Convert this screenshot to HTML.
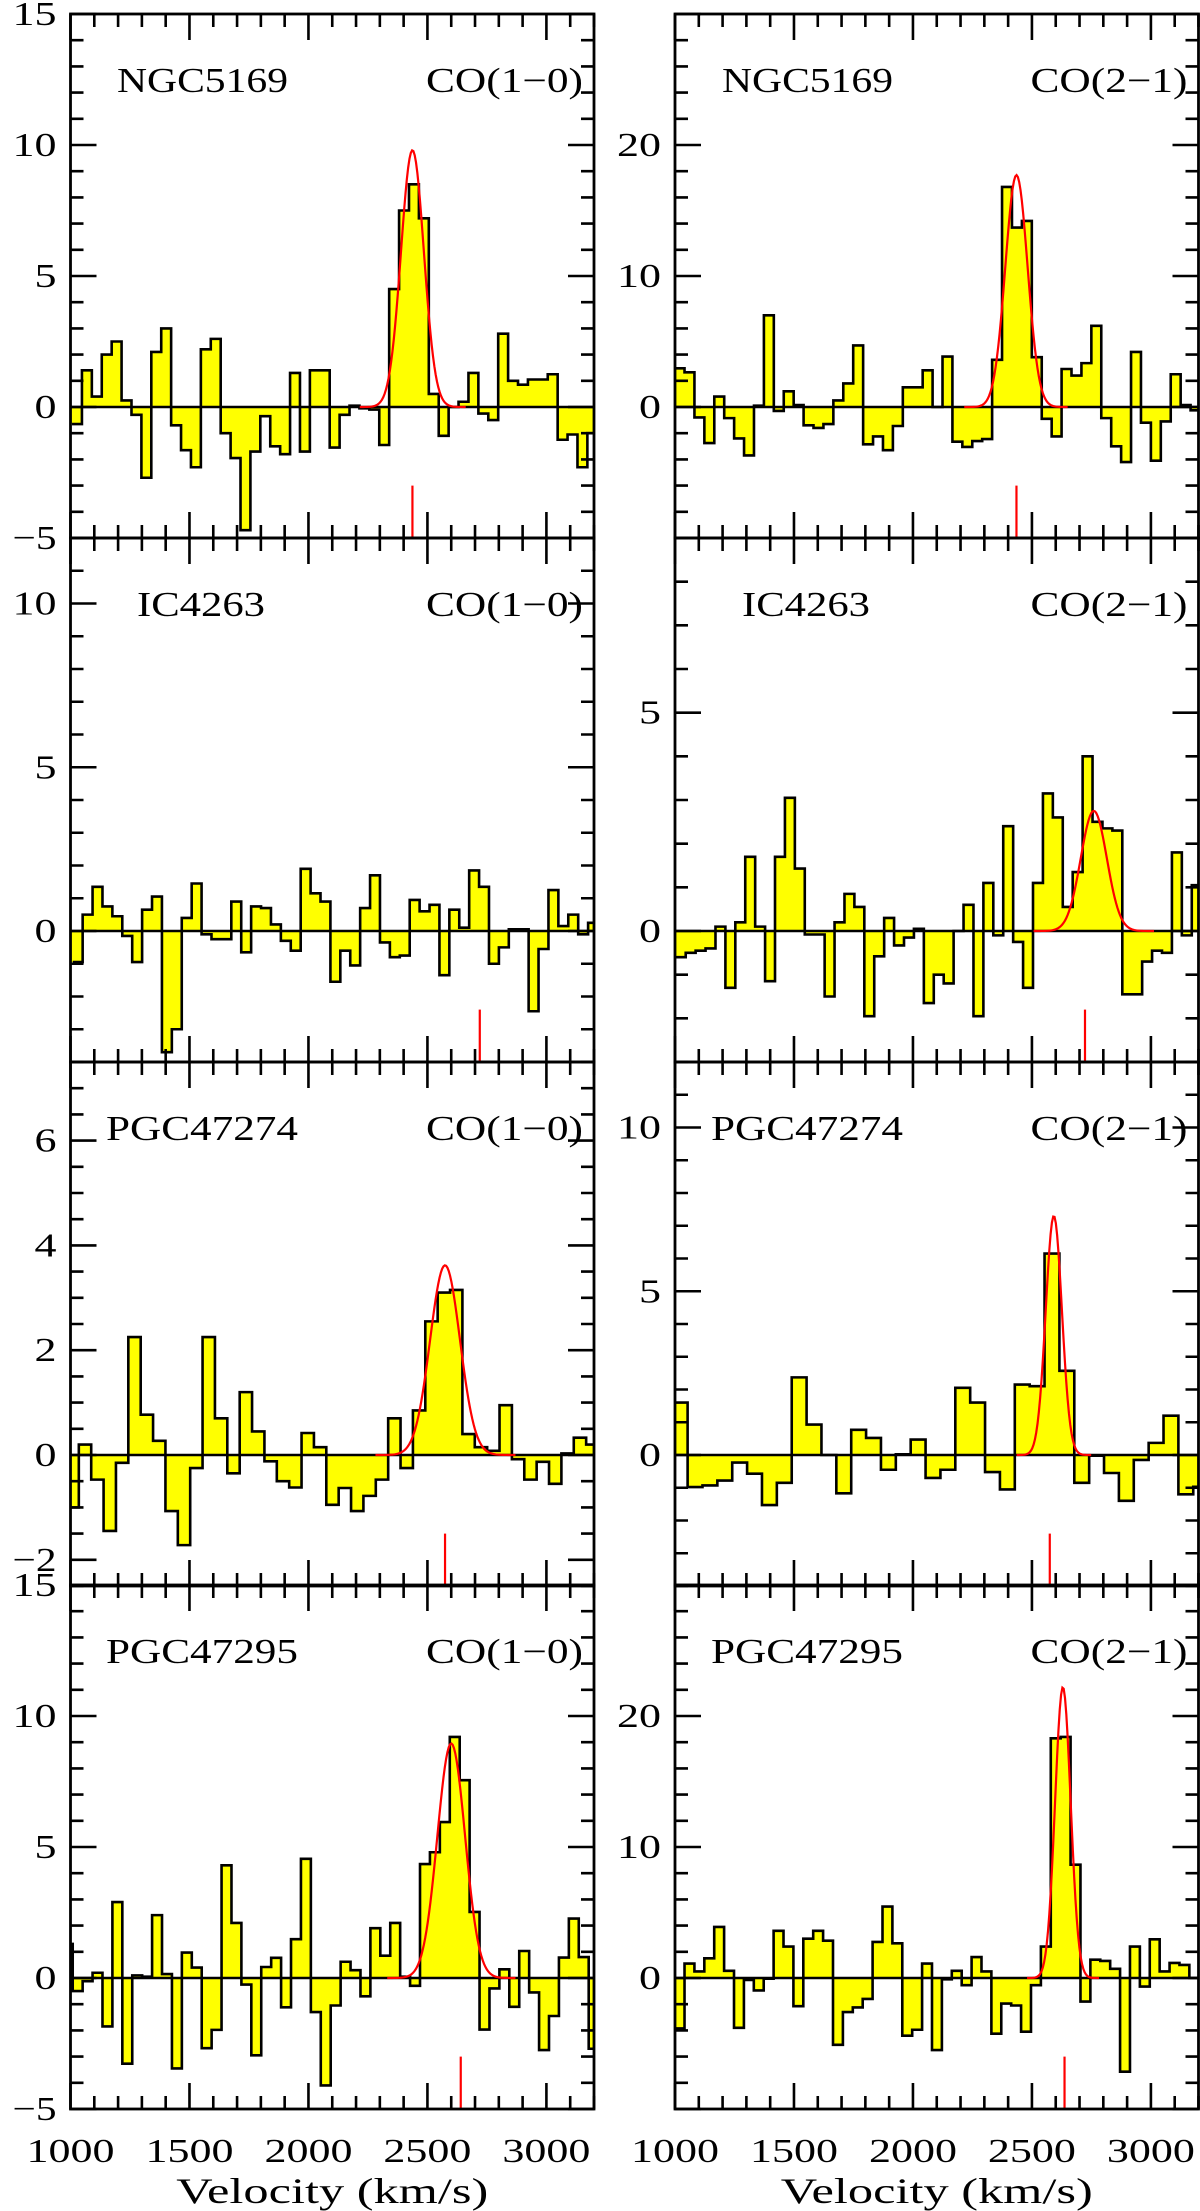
<!DOCTYPE html>
<html><head><meta charset="utf-8">
<style>
html,body{margin:0;padding:0;background:#fff;}
svg{display:block;}
text{font-family:"Liberation Serif",serif;fill:#000;}
</style></head>
<body>
<svg id="fig" width="1200" height="2211" viewBox="0 0 1200 2211" xmlns="http://www.w3.org/2000/svg"></svg>
<script>
// ---- data ----
const xTickLabels = [1000, 1500, 2000, 2500, 3000];
const galaxyNames = ["NGC5169", "IC4263", "PGC47274", "PGC47295"];
const lineNames = ["CO(1\u22120)", "CO(2\u22121)"];

const binStart = [1006.4, 998.3, 1009.4, 1003.3, 983.0, 990.5, 967.6, 998.4];
const binWidth = [41.65, 41.7, 41.65, 41.7, 52.0, 62.5, 41.7, 41.6];

const vals_ngc5169_co10 = [-0.65,1.4,0.4,2.0,2.5,0.25,-0.3,-2.7,2.1,3.0,-0.7,-1.65,-2.3,2.2,2.6,-1.0,-1.95,-4.7,-1.7,-0.35,-1.5,-1.8,1.3,-1.7,1.4,1.4,-1.55,-0.3,0.05,-0.05,-0.1,-1.45,4.5,7.5,8.5,7.2,0.5,-1.1,0.0,0.2,1.3,-0.25,-0.5,2.8,1.0,0.85,1.05,1.05,1.25,-1.25,-1.05,-2.3,-1.0];
const vals_ngc5169_co21 = [2.95,2.65,-0.8,-2.75,0.8,-0.85,-2.4,-3.7,0.1,7.0,-0.3,1.2,0.15,-1.4,-1.6,-1.3,0.5,1.8,4.7,-2.85,-2.25,-3.3,-1.45,1.5,1.5,2.8,0.0,3.85,-2.65,-3.05,-2.6,-2.45,3.6,16.8,13.7,14.2,3.8,-0.9,-2.25,2.9,2.4,3.35,6.2,-0.85,-3.0,-4.2,4.2,-1.2,-4.1,-1.1,2.5,0.15,-0.25];
const vals_ic4263_co10 = [-0.95,0.5,1.35,0.75,0.45,-0.15,-0.95,0.65,1.05,-3.7,-3.0,0.4,1.45,-0.1,-0.25,-0.25,0.9,-0.65,0.75,0.7,0.2,-0.3,-0.6,1.9,1.15,0.9,-1.55,-0.6,-1.05,0.7,1.7,-0.35,-0.8,-0.75,0.95,0.6,0.8,-1.35,0.65,0.1,1.85,1.35,-1.0,-0.5,0.05,0.05,-2.45,-0.55,1.25,0.15,0.5,-0.1,0.25];
const vals_ic4263_co21 = [-0.6,-0.5,-0.45,-0.4,0.1,-1.3,0.2,1.7,0.1,-1.15,1.7,3.05,1.43,-0.08,-0.08,-1.5,0.2,0.85,0.55,-1.95,-0.58,0.3,-0.33,-0.15,0.05,-1.65,-1.0,-1.2,0.0,0.6,-1.95,1.1,-0.1,2.4,-0.25,-1.3,1.1,3.15,2.6,0.55,1.35,4.0,2.5,2.35,2.3,-1.45,-1.45,-0.7,-0.45,-0.5,1.8,-0.1,1.05];
const vals_pgc47274_co10 = [-1.0,0.2,-0.47,-1.45,-0.15,2.25,0.77,0.27,-1.07,-1.72,-0.25,2.25,0.7,-0.35,1.2,0.45,-0.12,-0.5,-0.62,0.42,0.15,-0.95,-0.63,-1.07,-0.78,-0.47,0.7,-0.25,0.85,2.55,3.1,3.15,0.4,0.15,0.08,0.95,-0.08,-0.47,-0.13,-0.55,0.03,0.33,0.2];
const vals_pgc47274_co21 = [1.6,-0.98,-0.93,-0.78,-0.23,-0.57,-1.53,-0.85,2.37,0.93,0.0,-1.17,0.77,0.52,-0.45,0.02,0.47,-0.7,-0.45,2.05,1.6,-0.52,-1.05,2.15,2.1,6.15,2.57,-0.85,-0.02,-0.55,-1.4,-0.15,0.37,1.2,-1.2,-0.97];
const vals_pgc47295_co10 = [1.3,-0.5,-0.12,0.2,-1.85,2.9,-3.27,0.1,0.05,2.4,0.15,-3.45,0.97,0.4,-2.68,-1.98,4.3,2.1,-0.25,-2.95,0.42,0.77,-1.12,1.48,4.55,-1.3,-4.1,-1.05,0.62,0.3,-0.7,1.9,0.85,2.1,0.05,-0.3,4.35,4.8,5.95,9.2,7.55,2.52,-1.97,-0.4,0.33,-1.1,1.03,-0.55,-2.75,-1.45,0.78,2.27,0.8,-2.7];
const vals_pgc47295_co21 = [-3.85,1.1,0.5,1.5,3.9,0.55,-3.8,-0.15,-0.95,-0.05,3.6,2.4,-2.15,3.0,3.6,2.85,-5.1,-2.6,-2.25,-1.6,2.75,5.45,2.65,-4.4,-3.95,1.1,-5.5,-0.1,0.55,-0.55,1.6,0.5,-4.25,-1.95,-2.1,-4.1,-0.55,2.4,18.3,18.4,8.65,-1.8,1.4,1.3,0.7,-7.15,2.4,-0.65,2.95,0.5,1.15,1.0,0.0];

// gaussian fit: amplitude, centre (km/s), FWHM (km/s); null = no fit
const fitAmp = [9.8, 17.7, null, 2.75, 3.62, 7.3, 8.95, 22.2];
const fitCen = [2437, 2435, null, 2760, 2574, 2592, 2600, 2630];
const fitFwhm = [113, 110, null, 129, 148, 80, 137, 77];
// red velocity marker: position and top value of the tick
const markVel = [2437, 2435, 2720, 2723, 2574, 2575, 2640, 2637];
const markTop = [-3.0, -6.0, -2.4, -1.8, -1.5, -2.4, -3.0, -6.0];

// y-axis ranges and ticks
const yMin = [-5, -10, -4, -3, -2.5, -4, -5, -10];
const yMax = [15, 30, 12, 9, 7.5, 12, 15, 30];
const yMajor = [5, 10, 5, 5, 2, 5, 5, 10];
const yMinor = [1, 2, 1, 1, 0.5, 1, 1, 2];

const allVals = [vals_ngc5169_co10, vals_ngc5169_co21, vals_ic4263_co10, vals_ic4263_co21, vals_pgc47274_co10, vals_pgc47274_co21, vals_pgc47295_co10, vals_pgc47295_co21];

// ---- layout ----
const NS = "http://www.w3.org/2000/svg";
const svg = document.getElementById('fig');
const colL = [70.5, 675];
const colW = 523.5;
const rowT = [14, 538, 1062, 1585];
const rowH = 524;
const XMIN = 1000, XMAX = 3200;

function mk(tag, attrs, parent) {
  const e = document.createElementNS(NS, tag);
  for (const k in attrs) e.setAttribute(k, attrs[k]);
  (parent || svg).appendChild(e);
  return e;
}

const defs = mk('defs', {});

for (let p = 0; p < 8; p++) {
  const row = Math.floor(p / 2), col = p % 2;
  const L = colL[col], R = L + colW, T = rowT[row], B = T + rowH;
  const xs = v => L + (v - XMIN) / (XMAX - XMIN) * colW;
  const ys = v => B - (v - yMin[p]) / (yMax[p] - yMin[p]) * rowH;
  const g = mk('g', {});
  
  

  const cp = mk('clipPath', { id: 'clip' + p }, defs);
  mk('rect', { x: L, y: T, width: colW, height: rowH }, cp);

  const vals = allVals[p];
  const y0 = ys(0);
  let fillD = 'M' + L + ' ' + y0, lineD = '';
  for (let i = 0; i < vals.length; i++) {
    let x0 = xs(binStart[p] + i * binWidth[p]);
    let x1 = xs(binStart[p] + (i + 1) * binWidth[p]);
    x0 = Math.max(L, x0); x1 = Math.min(R, x1);
    if (x1 <= x0) continue;
    const y = ys(vals[i]);
    fillD += ' V' + y.toFixed(2) + ' H' + x1.toFixed(2);
    lineD += (lineD === '' ? 'M' + x0.toFixed(2) + ' ' + y.toFixed(2) : ' V' + y.toFixed(2)) + ' H' + x1.toFixed(2);
  }
  fillD += ' V' + y0 + ' Z';
  const fill = mk('path', { d: fillD, fill: '#ffff00', stroke: 'none', 'clip-path': 'url(#clip' + p + ')' }, g);
  
  
  const zl = mk('line', { x1: L, x2: R, y1: y0, y2: y0, stroke: '#000', 'stroke-width': 2.6 }, g);
  
  
  const st = mk('path', { d: lineD, fill: 'none', stroke: '#000', 'stroke-width': 2.6, 'clip-path': 'url(#clip' + p + ')' }, g);
  
  

  if (fitAmp[p] !== null) {
    let d = '';
    for (let k = 0; k <= 400; k++) {
      const v = XMIN + (XMAX - XMIN) * k / 400;
      const f = fitAmp[p] * Math.exp(-4 * Math.LN2 * Math.pow(v - fitCen[p], 2) / Math.pow(fitFwhm[p], 2));
      if (f < 0.02 * fitAmp[p] && Math.abs(v - fitCen[p]) > 2 * fitFwhm[p]) continue;
      d += (d === '' ? 'M' : ' L') + xs(v).toFixed(2) + ' ' + ys(f).toFixed(2);
    }
    const gf = mk('path', { d: d, fill: 'none', stroke: '#ff0000', 'stroke-width': 2.2, 'clip-path': 'url(#clip' + p + ')' }, g);
    
    
  }
  const mkv = mk('line', { x1: xs(markVel[p]), x2: xs(markVel[p]), y1: ys(markTop[p]), y2: B, stroke: '#ff0000', 'stroke-width': 2.2 }, g);
  
  

  // ticks
  let td = '';
  for (let v = XMIN; v <= XMAX + 0.1; v += 100) {
    const x = xs(v), len = (v % 500 === 0) ? 26 : 13;
    td += ' M' + x + ' ' + B + ' v' + (-len) + ' M' + x + ' ' + T + ' v' + len;
  }
  const nMin = Math.ceil(yMin[p] / yMinor[p] - 1e-6);
  const nMax = Math.floor(yMax[p] / yMinor[p] + 1e-6);
  for (let n = nMin; n <= nMax; n++) {
    const v = n * yMinor[p];
    const y = ys(v);
    const maj = Math.abs(v / yMajor[p] - Math.round(v / yMajor[p])) < 1e-6;
    const len = maj ? 26 : 13;
    td += ' M' + L + ' ' + y + ' h' + len + ' M' + R + ' ' + y + ' h' + (-len);
    const atEnd = Math.abs(v - yMin[p]) < 1e-6 || Math.abs(v - yMax[p]) < 1e-6;
    if (maj && !(col === 1 && atEnd)) {
      const s = (v < 0 ? '\u2212' : '') + Math.abs(v);
      const t = mk('text', { x: L - 14, y: y + 11, 'font-size': 34, 'text-anchor': 'end', textLength: s.length * 22, lengthAdjust: 'spacingAndGlyphs' }, g);
      t.textContent = s;
      
      
    }
  }
  const tk = mk('path', { d: td, fill: 'none', stroke: '#000', 'stroke-width': 2.6 }, g);
  
  
  const fr = mk('rect', { x: L, y: T, width: colW, height: rowH, fill: 'none', stroke: '#000', 'stroke-width': 2.8 }, g);
  
  

  // labels
  const nameX = [[117, 722], [137, 742], [106, 711], [106, 711]][row][col];
  const nameW = [171, 128, 192, 192][row];
  const gl = mk('text', { x: nameX, y: T + 78, 'font-size': 35, textLength: nameW, lengthAdjust: 'spacingAndGlyphs' }, g);
  gl.textContent = galaxyNames[row];
  
  
  const ll = mk('text', { x: R - 11 - 157, y: T + 78, 'font-size': 35, textLength: 157, lengthAdjust: 'spacingAndGlyphs' }, g);
  ll.textContent = lineNames[col];
  
  

  if (row === 3) {
    for (const v of xTickLabels) {
      const t = mk('text', { x: xs(v), y: 2162, 'font-size': 34, 'text-anchor': 'middle', textLength: 88, lengthAdjust: 'spacingAndGlyphs' }, g);
      t.textContent = String(v);
      
      
    }
    const xt = mk('text', { x: (L + R) / 2, y: 2203, 'font-size': 36, 'text-anchor': 'middle', textLength: 312, lengthAdjust: 'spacingAndGlyphs' }, g);
    xt.textContent = 'Velocity (km/s)';
    
    
  }
}
</script>
</body></html>
